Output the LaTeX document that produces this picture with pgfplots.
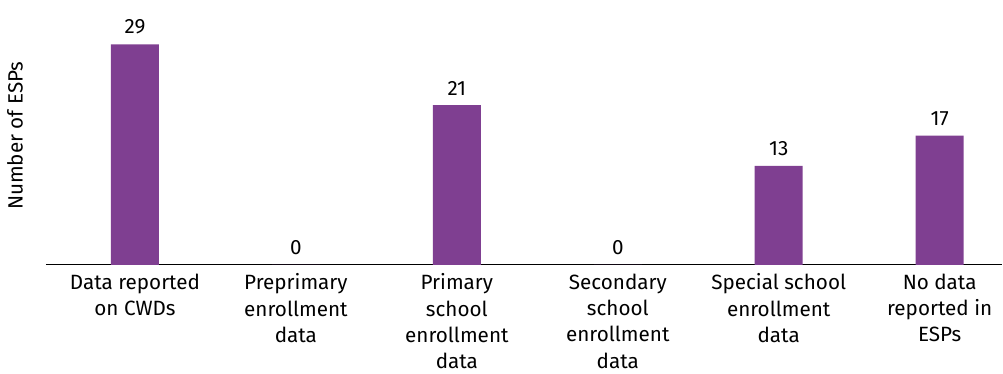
\documentclass[border=0pt]{standalone}
\usepackage{fontspec}
\setmainfont{Fira Sans}
\usepackage{pgfplots}
\pgfplotsset{compat=1.18}
\definecolor{barpurple}{RGB}{127,63,145}
\begin{document}
\begin{tikzpicture}
\begin{axis}[
  scale only axis,
  width=717.75pt, height=183.75pt,
  xmin=-0.553, xmax=5.39,
  ymin=0, ymax=32.2,
  axis x line=bottom, axis y line=left,
  x axis line style={black, line width=0.9pt, -},
  y axis line style={draw=none},
  xtick=data,
  xticklabels={{Data reported\\on CWDs},{Preprimary\\enrollment\\data},{Primary\\school\\enrollment\\data},{Secondary\\school\\enrollment\\data},{Special school\\enrollment\\data},{No data\\reported in\\ESPs}},
  xticklabel style={align=center, font=\fontsize{15.5}{19.8}\selectfont, yshift=-3pt},
  major tick length=0pt,
  ytick=\empty,
  ylabel={Number of ESPs},
  every axis y label/.style={at={(axis description cs:0,0.5)}, rotate=90, anchor=center, xshift=5pt, yshift=23.25pt, font=\fontsize{15.5}{16}\selectfont},
  ybar, bar width=36pt,
  nodes near coords,
  /pgf/number format/assume math mode=true,
  every node near coord/.append style={font=\fontsize{15.5}{16}\selectfont, black, yshift=4pt},
  clip=false,
]
\addplot[fill=barpurple, draw=none] coordinates {(0,29) (1,0) (2,21) (3,0) (4,13) (5,17)};
\end{axis}
\useasboundingbox (-34.5pt,-80.25pt) rectangle (717.75pt,198.75pt);
\end{tikzpicture}
\end{document}
